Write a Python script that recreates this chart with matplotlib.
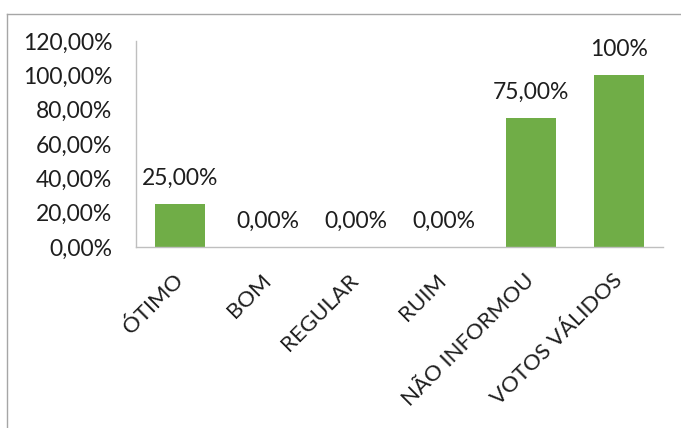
import matplotlib
matplotlib.use("Agg")
import matplotlib.pyplot as plt
from matplotlib.lines import Line2D
from matplotlib.ticker import FuncFormatter

categorias = ["ÓTIMO", "BOM", "REGULAR", "RUIM", "NÃO INFORMOU", "VOTOS VÁLIDOS"]
valores = [0.25, 0.0, 0.0, 0.0, 0.75, 1.00]
rotulos = ["25,00%", "0,00%", "0,00%", "0,00%", "75,00%", "100%"]
yticks = [0.0, 0.2, 0.4, 0.6, 0.8, 1.0, 1.2]

verde = "#70AD47"
texto = "#1E1E1E"
eixo = "#BFBFBF"

plt.rcParams["font.family"] = ["Lato", "DejaVu Sans"]

fig = plt.figure(figsize=(6.81, 4.28), dpi=100)
ax = fig.add_axes([0.1997, 0.4229, 0.7739, 0.4813])

x = list(range(len(categorias)))
ax.bar(x, valores, width=0.57, color=verde, zorder=2)

for xi, v, r in zip(x, valores, rotulos):
    ax.annotate(r, (xi, v), xytext=(0, 18.5), textcoords="offset points",
                ha="center", va="center", fontsize=16.5, color=texto)

ax.set_xlim(-0.5, len(categorias) - 0.5)
ax.set_ylim(0, 1.2)
ax.set_yticks(yticks)
ax.yaxis.set_major_formatter(FuncFormatter(lambda v, p: f"{v * 100:.2f}%".replace(".", ",")))
ax.tick_params(axis="y", length=0, pad=17, labelsize=16.5, labelcolor=texto)

ax.set_xticks(x)
ax.set_xticklabels(categorias, rotation=45, ha="right", va="center",
                   rotation_mode="anchor", fontsize=16, color=texto)
ax.tick_params(axis="x", length=0, pad=22)

for s in ["top", "right"]:
    ax.spines[s].set_visible(False)
for s in ["left", "bottom"]:
    ax.spines[s].set_color(eixo)
    ax.spines[s].set_linewidth(1.0)

# moldura do gráfico (só aparecem os lados de cima e da esquerda)
fig.add_artist(Line2D([7 / 681, 1.0], [1 - 14 / 428, 1 - 14 / 428],
                      transform=fig.transFigure, color="#A6A6A6", lw=1.0))
fig.add_artist(Line2D([7 / 681, 7 / 681], [0.0, 1 - 14 / 428],
                      transform=fig.transFigure, color="#A6A6A6", lw=1.0))

fig.savefig("out.png", dpi=100)
